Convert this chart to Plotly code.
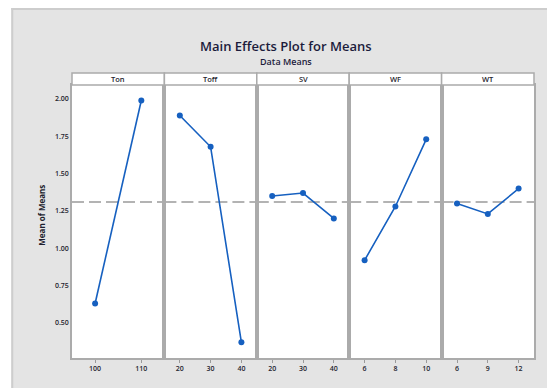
import plotly.graph_objects as go
from plotly.subplots import make_subplots

# Factor names and their level labels
factors = ["Ton", "Toff", "SV", "WF", "WT"]
ton_levels = ["100", "110"]
toff_levels = ["20", "30", "40"]
sv_levels = ["20", "30", "40"]
wf_levels = ["6", "8", "10"]
wt_levels = ["6", "9", "12"]

# Mean response at each factor level
ton_means = [0.63, 1.99]
toff_means = [1.89, 1.68, 0.37]
sv_means = [1.35, 1.37, 1.20]
wf_means = [0.92, 1.28, 1.73]
wt_means = [1.30, 1.23, 1.40]

y_tick_vals = [0.50, 0.75, 1.00, 1.25, 1.50, 1.75, 2.00]
y_tick_text = ["0.50", "0.75", "1.00", "1.25", "1.50", "1.75", "2.00"]

levels = [ton_levels, toff_levels, sv_levels, wf_levels, wt_levels]
means = [ton_means, toff_means, sv_means, wf_means, wt_means]

# Grand mean (balanced design: average of one factor's level means)
grand_mean = sum(ton_means) / len(ton_means)

W, H = 547, 388
ML, MR, MT, MB = 72, 11, 73, 30
plot_w = W - ML - MR
plot_h = H - MT - MB
strip_h = 12
y_dom_top = (plot_h - strip_h) / plot_h

def px_x(p):
    return (p - ML) / plot_w

def px_y(p):
    return (H - MB - p) / plot_h

BLUE = "#1660c0"
FRAME = "#ababab"
TXT = "#1e1e2e"
FONT = "Open Sans"

fig = make_subplots(rows=1, cols=5, shared_yaxes=True, horizontal_spacing=0)

for i, (lv, mv) in enumerate(zip(levels, means)):
    col = i + 1
    fig.add_trace(
        go.Scatter(
            x=list(range(len(lv))), y=mv, mode="lines+markers",
            line=dict(color=BLUE, width=1.6),
            marker=dict(color=BLUE, size=6, symbol="circle"),
            showlegend=False, hoverinfo="skip",
        ),
        row=1, col=col,
    )
    fig.update_xaxes(
        range=[-0.5, len(lv) - 0.5],
        tickmode="array", tickvals=list(range(len(lv))), ticktext=lv,
        ticks="outside", ticklen=3, tickwidth=1, tickcolor="#9a9a9a",
        showgrid=False, zeroline=False,
        showline=True, mirror=True, linecolor=FRAME, linewidth=1.5,
        tickfont=dict(family=FONT, size=7, color=TXT, weight=600),
        row=1, col=col,
    )
    xref = "x" if col == 1 else f"x{col}"
    # dashed reference line at the grand mean
    fig.add_shape(
        type="line", xref=f"{xref} domain", yref="y",
        x0=0, x1=1, y0=grand_mean, y1=grand_mean,
        line=dict(color="#9b9b9b", width=1.6, dash="12px,5px"),
        layer="below",
    )
    # panel header strip
    x0 = i / 5
    x1 = (i + 1) / 5
    fig.add_shape(
        type="rect", xref="paper", yref="paper",
        x0=x0, x1=x1, y0=y_dom_top, y1=1.0,
        fillcolor="white", line=dict(color=FRAME, width=1.5),
    )
    fig.add_annotation(
        x=(x0 + x1) / 2, y=(y_dom_top + 1) / 2, xref="paper", yref="paper",
        xanchor="center", yanchor="middle",
        text=factors[i], showarrow=False,
        font=dict(family=FONT, size=7.5, color=TXT, weight=600),
    )

fig.update_yaxes(
    domain=[0, y_dom_top], range=[0.265, 2.094],
    tickmode="array", tickvals=y_tick_vals, ticktext=y_tick_text,
    ticks="", showgrid=False, zeroline=False,
    showline=True, mirror=True, linecolor=FRAME, linewidth=1.5,
    tickfont=dict(family=FONT, size=7, color=TXT, weight=600),
)

# white surround outside the gray chart panel, plus its darker edge
fig.add_shape(type="rect", xref="paper", yref="paper",
              x0=px_x(-5), x1=px_x(11), y0=px_y(400), y1=px_y(-5),
              fillcolor="white", line=dict(width=0))
fig.add_shape(type="rect", xref="paper", yref="paper",
              x0=px_x(-5), x1=px_x(560), y0=px_y(8), y1=px_y(-5),
              fillcolor="white", line=dict(width=0))
fig.add_shape(type="rect", xref="paper", yref="paper",
              x0=px_x(11), x1=px_x(560), y0=px_y(10), y1=px_y(8),
              fillcolor="#cdcdcd", line=dict(width=0))
fig.add_shape(type="rect", xref="paper", yref="paper",
              x0=px_x(11), x1=px_x(13), y0=px_y(400), y1=px_y(8),
              fillcolor="#cdcdcd", line=dict(width=0))

fig.add_annotation(
    x=px_x(287), y=px_y(35), xref="paper", yref="paper",
    text="Main Effects Plot for Means", showarrow=False,
    font=dict(family=FONT, size=13, color="#1c1c3c", weight=600),
)
fig.add_annotation(
    x=px_x(287), y=px_y(53), xref="paper", yref="paper",
    text="Data Means", showarrow=False,
    font=dict(family=FONT, size=9, color="#1c1c3c", weight=600),
)
fig.add_annotation(
    x=px_x(33), y=px_y(215), xref="paper", yref="paper",
    text="<b>Mean of Means</b>", showarrow=False, textangle=-90,
    font=dict(family=FONT, size=8, color=TXT),
)

fig.update_layout(
    width=W, height=H,
    margin=dict(l=ML, r=MR, t=MT, b=MB, pad=0),
    paper_bgcolor="#e4e4e4", plot_bgcolor="white",
    showlegend=False,
)

fig.write_html("out.html")
